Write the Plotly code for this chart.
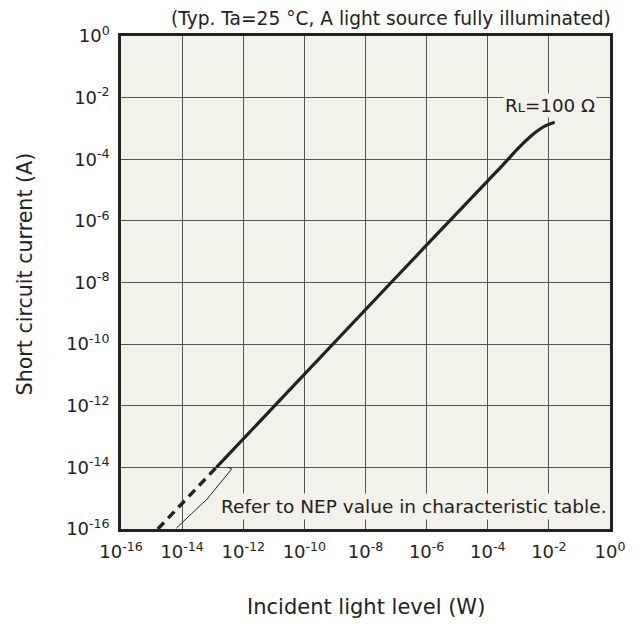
import plotly.graph_objects as go

# Data
solid_power = [1.32e-13, 6.9e-8, 1.0e-4, 3.16e-4, 1.0e-3, 2.5e-3, 4.5e-3, 7.9e-3, 1.55e-2]
solid_current = [1.0e-14, 1.0e-8, 2.0e-5, 6.6e-5, 2.3e-4, 5.5e-4, 8.7e-4, 1.23e-3, 1.6e-3]
dashed_power = [1.6e-15, 1.32e-13]
dashed_current = [1.0e-16, 1.0e-14]
brace_power = [3.1e-13, 4.2e-13, 7.9e-14, 6.2e-14, 4.7e-14, 6.5e-15]
brace_current = [1.02e-14, 8.9e-15, 1.17e-15, 8.7e-16, 6.9e-16, 1.07e-16]

tick_vals = [10.0 ** e for e in range(-16, 1, 2)]
tick_text = ["10<sup>%d</sup>" % e for e in range(-16, 1, 2)]

FONT = "DejaVu Sans"
BG = "#F2F1EA"
INK = "#222222"

# page body has an 8px default margin, so the figure is sized to fit the window
W, H = 629, 619
L, T = 113, 28          # plot left/top in figure coords
PW, PH = 491, 493       # plot width/height


def px(xp):  # window x -> paper x
    return (xp - 8 - L) / PW


def py(yp):  # window y -> paper y
    return 1 - (yp - 8 - T) / PH


fig = go.Figure()
fig.add_trace(go.Scatter(x=dashed_power, y=dashed_current, mode="lines",
                         line=dict(color=INK, width=3.4, dash="9px,6px"),
                         showlegend=False, hoverinfo="skip"))
fig.add_trace(go.Scatter(x=solid_power, y=solid_current, mode="lines",
                         line=dict(color=INK, width=3.2, shape="spline", smoothing=0.8),
                         showlegend=False))
fig.add_trace(go.Scatter(x=brace_power, y=brace_current, mode="lines",
                         line=dict(color=INK, width=1),
                         showlegend=False, hoverinfo="skip"))

axis_common = dict(type="log", tickvals=tick_vals, ticktext=tick_text,
                   showgrid=True, gridcolor="#555555", gridwidth=1,
                   showline=True, linecolor=INK, linewidth=2.5, mirror=True,
                   ticks="outside", ticklen=5, tickcolor="rgba(0,0,0,0)",
                   tickfont=dict(family=FONT, size=18, color=INK), zeroline=False)

fig.update_xaxes(range=[-16, 0], **axis_common)
fig.update_yaxes(range=[-16, 0], **axis_common)

fig.update_layout(
    width=W, height=H,
    margin=dict(l=L, r=W - L - PW, t=T, b=H - T - PH),
    paper_bgcolor="white", plot_bgcolor=BG,
    font=dict(family=FONT, color=INK),
    annotations=[
        dict(text="(Typ. Ta=25 °C, A light source fully illuminated)", xref="paper", yref="paper",
             x=px(615), y=py(19), xanchor="right", yanchor="middle", showarrow=False,
             font=dict(family=FONT, size=18.6, color=INK)),
        dict(text="R<span style='font-size:13px'>L</span>=100 Ω", xref="paper", yref="paper",
             x=px(552), y=py(106), xanchor="center", yanchor="middle",
             showarrow=False, bgcolor=BG, borderpad=1,
             font=dict(family=FONT, size=18.3, color=INK)),
        dict(text="Refer to NEP value in characteristic table.", xref="paper", yref="paper",
             x=px(218), y=py(506), xanchor="left", yanchor="middle",
             showarrow=False, bgcolor=BG, borderpad=2,
             font=dict(family=FONT, size=18.5, color=INK)),
        dict(text="Incident light level (W)", xref="paper", yref="paper",
             x=0.5, y=py(607), xanchor="center", yanchor="middle", showarrow=False,
             font=dict(family=FONT, size=21, color=INK)),
        dict(text="Short circuit current (A)", xref="paper", yref="paper",
             x=px(25), y=py(274), xanchor="center", yanchor="middle",
             textangle=-90, showarrow=False,
             font=dict(family=FONT, size=20.6, color=INK)),
    ],
)

fig.write_html("out.html")
